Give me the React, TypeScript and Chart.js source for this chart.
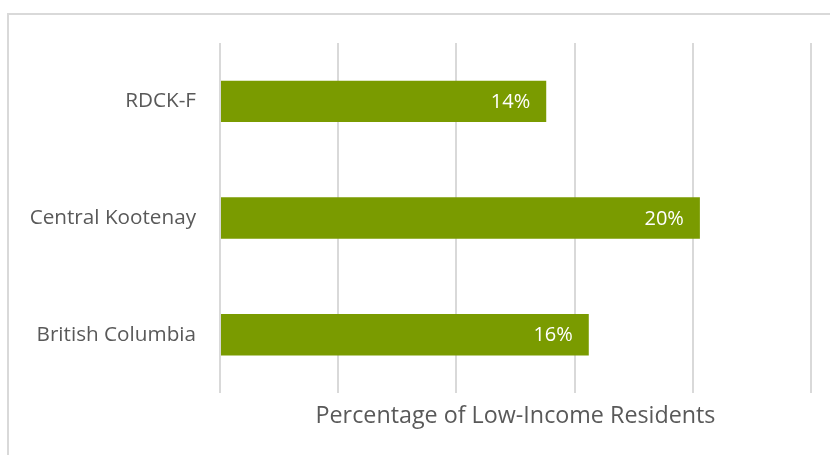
import React, { useEffect, useRef } from "react";
import { Chart, registerables } from "chart.js";

Chart.register(...registerables);

const categories = ["RDCK-F", "Central Kootenay", "British Columbia"];
const values = [13.8, 20.3, 15.6];
const xTitle = "Percentage of Low-Income Residents";
const barColor = "#7a9b00";
const textColor = "#595959";
const fontFamily = "'Open Sans', sans-serif";

const valueLabels = {
  id: "valueLabels",
  afterDatasetsDraw(chart: any) {
    const { ctx } = chart;
    const meta = chart.getDatasetMeta(0);
    ctx.save();
    ctx.fillStyle = "#ffffff";
    ctx.font = `20px ${fontFamily}`;
    ctx.textAlign = "right";
    ctx.textBaseline = "middle";
    meta.data.forEach((bar: any, i: number) => {
      const v = chart.data.datasets[0].data[i];
      ctx.fillText(`${Math.round(v)}%`, bar.x - 16, bar.y + 1);
    });
    ctx.restore();
  },
};

export default function App() {
  const ref = useRef<HTMLCanvasElement>(null);
  useEffect(() => {
    const chart = new Chart(ref.current!, {
      type: "bar",
      data: {
        labels: categories,
        datasets: [
          {
            data: values,
            backgroundColor: barColor,
            categoryPercentage: 1,
            barPercentage: 0.355,
          },
        ],
      },
      options: {
        indexAxis: "y",
        animation: false,
        responsive: false,
        maintainAspectRatio: false,
        layout: { padding: { top: 43, right: 19, left: 0, bottom: 0 } },
        plugins: { legend: { display: false }, tooltip: { enabled: false } },
        scales: {
          x: {
            min: 0,
            max: 25,
            ticks: { display: false, stepSize: 5 },
            grid: { color: "#d9d9d9", lineWidth: 2, drawTicks: false },
            border: { display: false },
            title: {
              display: true,
              text: xTitle,
              color: textColor,
              font: { family: fontFamily, size: 23.3 },
              padding: { top: 0, bottom: 25 },
            },
            afterFit(scale: any) {
              scale.height = 62;
            },
          },
          y: {
            ticks: {
              color: textColor,
              font: { family: fontFamily, size: 20.7 },
              padding: 16,
            },
            grid: { display: false },
            border: { display: false },
            afterFit(scale: any) {
              scale.width = 220;
            },
          },
        },
      },
      plugins: [valueLabels],
    });
    return () => chart.destroy();
  }, []);

  return (
    <div style={{ position: "fixed", left: 0, top: 0, width: 830, height: 455, overflow: "hidden", background: "#fff" }}>
      <div
        style={{
          position: "absolute",
          left: 7,
          top: 13,
          width: 840,
          height: 460,
          border: "2px solid #d9d9d9",
          boxSizing: "border-box",
        }}
      />
      <canvas ref={ref} width={830} height={455} style={{ position: "absolute", left: 0, top: 0 }} />
    </div>
  );
}
